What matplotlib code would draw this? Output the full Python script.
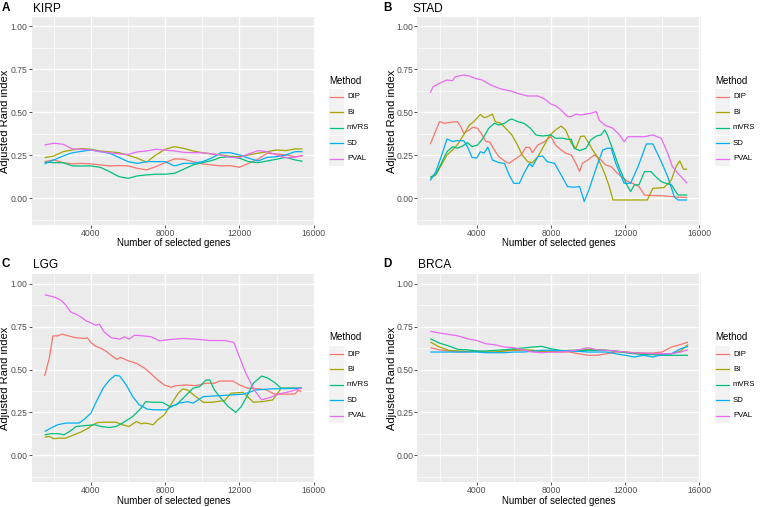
import matplotlib
matplotlib.use("Agg")
import matplotlib.pyplot as plt
from matplotlib.ticker import FixedLocator, FormatStrFormatter
from matplotlib.patches import Rectangle
from matplotlib.lines import Line2D

plt.rcParams['font.family'] = ['Liberation Sans', 'DejaVu Sans']

# ---------------- data ----------------
methods = ["DIP", "BI", "mVRS", "SD", "PVAL"]
colors = ["#F8766D", "#A3A500", "#00BF7D", "#00B0F6", "#E76BF3"]
x_ticks = [4000, 8000, 12000, 16000]
y_ticks = [0.00, 0.25, 0.50, 0.75, 1.00]

# KIRP and BRCA share a common gene-count grid
grid_x = [1500, 2000, 2500, 3000, 3500, 4000, 4500, 5000, 5500, 6000, 6500, 7000,
          7500, 8000, 8500, 9000, 9500, 10000, 10500, 11000, 11500, 12000, 12500,
          13000, 13500, 14000, 14500, 15000, 15400]

kirp_dip = [0.213, 0.223, 0.207, 0.200, 0.203, 0.200, 0.194, 0.188, 0.190, 0.188, 0.174, 0.165,
            0.184, 0.207, 0.229, 0.227, 0.213, 0.200, 0.194, 0.188, 0.190, 0.180, 0.203,
            0.227, 0.262, 0.258, 0.252, 0.242, 0.246]
kirp_bi = [0.236, 0.246, 0.271, 0.281, 0.289, 0.285, 0.275, 0.270, 0.265, 0.250, 0.233, 0.210,
           0.252, 0.285, 0.300, 0.290, 0.275, 0.265, 0.258, 0.252, 0.244, 0.242, 0.252,
           0.262, 0.271, 0.281, 0.277, 0.287, 0.287]
kirp_mvrs = [0.210, 0.207, 0.207, 0.188, 0.188, 0.188, 0.180, 0.155, 0.126, 0.116, 0.130, 0.136,
             0.140, 0.140, 0.145, 0.169, 0.194, 0.207, 0.219, 0.238, 0.242, 0.233, 0.213,
             0.207, 0.217, 0.227, 0.238, 0.223, 0.215]
kirp_sd = [0.200, 0.223, 0.246, 0.265, 0.273, 0.281, 0.271, 0.262, 0.238, 0.213, 0.203, 0.213,
           0.213, 0.213, 0.188, 0.203, 0.203, 0.213, 0.233, 0.265, 0.265, 0.252, 0.233,
           0.217, 0.238, 0.242, 0.252, 0.271, 0.271]
kirp_pval = [0.310, 0.320, 0.314, 0.287, 0.285, 0.281, 0.271, 0.265, 0.258, 0.255, 0.270, 0.275,
             0.285, 0.280, 0.275, 0.267, 0.265, 0.265, 0.258, 0.252, 0.238, 0.236, 0.258,
             0.277, 0.271, 0.252, 0.236, 0.238, 0.250]

brca_dip = [0.627, 0.615, 0.608, 0.602, 0.604, 0.606, 0.602, 0.602, 0.608, 0.612, 0.612, 0.612,
            0.606, 0.602, 0.602, 0.602, 0.592, 0.583, 0.583, 0.592, 0.602, 0.602, 0.598,
            0.596, 0.596, 0.602, 0.631, 0.646, 0.660]
brca_bi = [0.660, 0.631, 0.612, 0.608, 0.606, 0.606, 0.602, 0.602, 0.608, 0.615, 0.615, 0.612,
           0.606, 0.606, 0.608, 0.612, 0.612, 0.617, 0.615, 0.612, 0.606, 0.602, 0.596,
           0.592, 0.592, 0.588, 0.592, 0.608, 0.646]
brca_mvrs = [0.679, 0.654, 0.637, 0.617, 0.615, 0.608, 0.608, 0.612, 0.615, 0.621, 0.625, 0.631,
             0.635, 0.621, 0.612, 0.608, 0.612, 0.612, 0.612, 0.612, 0.608, 0.598, 0.592,
             0.588, 0.587, 0.583, 0.583, 0.583, 0.583]
brca_sd = [0.602, 0.602, 0.602, 0.602, 0.602, 0.602, 0.598, 0.598, 0.598, 0.602, 0.602, 0.606,
           0.612, 0.612, 0.608, 0.608, 0.606, 0.602, 0.602, 0.602, 0.592, 0.583, 0.573,
           0.583, 0.573, 0.587, 0.592, 0.621, 0.635]
brca_pval = [0.723, 0.713, 0.704, 0.696, 0.679, 0.669, 0.650, 0.644, 0.631, 0.627, 0.615, 0.602,
             0.598, 0.602, 0.602, 0.608, 0.615, 0.627, 0.615, 0.612, 0.608, 0.602, 0.596,
             0.596, 0.592, 0.592, 0.592, 0.602, 0.615]

# STAD (read as vertices of each curve)
stad_dip_x = [1500, 1700, 2000, 2250, 2600, 2950, 3150, 3300, 3600, 3800, 4050, 4300, 4500, 4700,
              4950, 5200, 5550, 5750, 6000, 6400, 6650, 6850, 7000, 7300, 7650, 8000, 8250,
              8550, 8800, 9100, 9350, 9550, 9700, 10000, 10350, 10700, 10950, 11250, 11500,
              11800, 12150, 12400, 12750, 13050, 13400, 14100, 14850, 15350]
stad_dip_y = [0.314, 0.368, 0.446, 0.436, 0.442, 0.446, 0.417, 0.378, 0.397, 0.413, 0.407, 0.368,
              0.329, 0.329, 0.281, 0.242, 0.213, 0.203, 0.223, 0.252, 0.296, 0.296, 0.266,
              0.310, 0.329, 0.359, 0.310, 0.281, 0.262, 0.252, 0.203, 0.155, 0.203, 0.223,
              0.252, 0.223, 0.194, 0.184, 0.155, 0.126, 0.097, 0.087, 0.068, 0.019, 0.016,
              0.014, 0.006, 0.004]
stad_bi_x = [1500, 1800, 2050, 2400, 2700, 2950, 3300, 3600, 3850, 4200, 4400, 4600, 4850, 5000,
             5300, 5650, 5900, 6200, 6450, 6750, 7000, 7300, 7650, 7900, 8250, 8550, 8800,
             9100, 9350, 9600, 9800, 10000, 10250, 10500, 10900, 11150, 11350, 13200, 13500,
             14100, 14500, 14750, 14950, 15150, 15350]
stad_bi_y = [0.116, 0.136, 0.184, 0.252, 0.281, 0.310, 0.368, 0.426, 0.446, 0.488, 0.469, 0.475,
             0.490, 0.446, 0.436, 0.397, 0.368, 0.310, 0.252, 0.213, 0.207, 0.242, 0.310,
             0.362, 0.397, 0.420, 0.397, 0.320, 0.291, 0.359, 0.362, 0.329, 0.281, 0.242,
             0.145, 0.068, -0.010, -0.010, 0.058, 0.062, 0.107, 0.184, 0.217, 0.169, 0.169]
stad_mvrs_x = [1500, 1800, 2050, 2400, 2700, 2950, 3250, 3500, 3750, 4050, 4300, 4500, 4650, 4950,
               5200, 5500, 5750, 5900, 6200, 6550, 6900, 7200, 7550, 8000, 8250, 8650, 8900,
               9100, 9250, 9550, 9900, 10150, 10450, 10700, 10900, 11050, 11350, 11700, 12050,
               12300, 12500, 12750, 13050, 13400, 13650, 13950, 14200, 14500, 14850, 15350]
stad_mvrs_y = [0.122, 0.141, 0.194, 0.271, 0.300, 0.291, 0.304, 0.324, 0.300, 0.310, 0.343, 0.378,
               0.407, 0.436, 0.426, 0.436, 0.455, 0.461, 0.446, 0.436, 0.407, 0.368, 0.362,
               0.368, 0.349, 0.349, 0.343, 0.343, 0.291, 0.277, 0.291, 0.339, 0.362, 0.368,
               0.397, 0.368, 0.281, 0.174, 0.087, 0.039, 0.078, 0.078, 0.155, 0.155, 0.126,
               0.097, 0.087, 0.078, 0.019, 0.019]
stad_sd_x = [1500, 1800, 2150, 2400, 2700, 2950, 3300, 3500, 3750, 4000, 4200, 4400, 4600, 4850,
             5200, 5500, 5750, 6000, 6300, 6550, 6850, 7000, 7300, 7550, 7800, 8200, 8550,
             8900, 9250, 9550, 9800, 10050, 10500, 10800, 11050, 11250, 11500, 11950, 12300,
             12700, 13150, 13500, 13950, 14300, 14650, 14850, 15350]
stad_sd_y = [0.103, 0.155, 0.262, 0.345, 0.330, 0.335, 0.335, 0.300, 0.238, 0.233, 0.271, 0.262,
             0.297, 0.223, 0.207, 0.203, 0.136, 0.087, 0.087, 0.145, 0.203, 0.184, 0.242,
             0.246, 0.213, 0.203, 0.136, 0.068, 0.064, 0.068, -0.019, 0.048, 0.194, 0.281,
             0.291, 0.291, 0.203, 0.087, 0.087, 0.184, 0.316, 0.316, 0.213, 0.126, 0.010,
             -0.010, -0.010]
stad_pval_x = [1500, 1650, 2000, 2400, 2700, 2850, 3300, 3600, 3950, 4300, 4750, 5300, 5850, 6200,
               6750, 7300, 7650, 8000, 8250, 8550, 8900, 9100, 9350, 9600, 10150, 10450, 10600,
               10900, 11350, 11700, 11950, 12150, 13050, 13500, 13950, 14300, 14550, 14850,
               15350]
stad_pval_y = [0.614, 0.649, 0.669, 0.688, 0.684, 0.707, 0.717, 0.711, 0.696, 0.688, 0.659, 0.636,
               0.624, 0.610, 0.595, 0.595, 0.578, 0.548, 0.539, 0.514, 0.475, 0.475, 0.490,
               0.484, 0.494, 0.504, 0.455, 0.426, 0.407, 0.368, 0.329, 0.358, 0.358, 0.368,
               0.349, 0.262, 0.184, 0.145, 0.087]

# LGG (read as vertices of each curve)
lgg_dip_x = [1500, 1750, 1950, 2200, 2450, 2850, 3200, 3650, 3800, 4000, 4250, 4550, 4800, 5150,
             5400, 5600, 6000, 6450, 6900, 7250, 7600, 7950, 8300, 8600, 9150, 9650, 10200,
             10650, 10950, 11650, 12000, 12450, 13100, 13450, 13900, 14350, 15000, 15150, 15350]
lgg_dip_y = [0.462, 0.565, 0.696, 0.696, 0.706, 0.694, 0.685, 0.681, 0.685, 0.656, 0.636, 0.623,
             0.607, 0.578, 0.559, 0.571, 0.551, 0.536, 0.507, 0.474, 0.439, 0.410, 0.397,
             0.406, 0.410, 0.406, 0.420, 0.420, 0.433, 0.433, 0.410, 0.391, 0.387, 0.381,
             0.356, 0.356, 0.358, 0.377, 0.373]
lgg_bi_x = [1500, 1750, 2000, 2300, 2650, 3000, 3450, 3800, 4100, 4350, 4800, 5350, 5700, 6050,
            6450, 6700, 6950, 7350, 7600, 7950, 8300, 8700, 8950, 9200, 9650, 10050, 10500,
            11200, 11550, 12200, 12750, 13250, 13800, 14250, 15350]
lgg_bi_y = [0.106, 0.110, 0.097, 0.100, 0.100, 0.116, 0.135, 0.155, 0.178, 0.191, 0.193, 0.193,
            0.178, 0.168, 0.197, 0.184, 0.188, 0.178, 0.207, 0.236, 0.294, 0.362, 0.387,
            0.381, 0.342, 0.309, 0.309, 0.319, 0.362, 0.367, 0.309, 0.313, 0.323, 0.391, 0.391]
lgg_mvrs_x = [1500, 1850, 2200, 2550, 2850, 3200, 3750, 4200, 4550, 5000, 5350, 5700, 6250, 6700,
              6950, 7350, 7850, 8250, 8600, 9050, 9500, 9850, 10200, 10400, 10650, 11000,
              11400, 11800, 12100, 12350, 12750, 13200, 13550, 13900, 14250, 15350]
lgg_mvrs_y = [0.120, 0.126, 0.126, 0.120, 0.139, 0.168, 0.174, 0.178, 0.168, 0.162, 0.168, 0.188,
              0.226, 0.275, 0.313, 0.309, 0.309, 0.284, 0.294, 0.342, 0.391, 0.400, 0.439,
              0.439, 0.381, 0.333, 0.284, 0.250, 0.284, 0.333, 0.420, 0.462, 0.449, 0.424,
              0.391, 0.391]
lgg_sd_x = [1500, 1850, 2200, 2650, 3350, 3650, 4000, 4250, 4650, 5000, 5300, 5550, 5900, 6250,
            6600, 7050, 7400, 8050, 8400, 8750, 9200, 9500, 10050, 10950, 12200, 12900, 13650,
            15350]
lgg_sd_y = [0.139, 0.159, 0.178, 0.188, 0.188, 0.211, 0.246, 0.304, 0.391, 0.439, 0.466, 0.462,
            0.410, 0.342, 0.294, 0.269, 0.265, 0.265, 0.288, 0.304, 0.313, 0.304, 0.342, 0.348,
            0.356, 0.381, 0.387, 0.391]
lgg_pval_x = [1500, 1850, 2100, 2400, 2650, 2900, 3200, 3450, 3750, 4000, 4250, 4450, 4700, 5100,
              5550, 5800, 6050, 6350, 6800, 7250, 7700, 8250, 8950, 9650, 10400, 11200, 11700,
              12000, 12350, 12800, 13200, 13650, 14150, 14700, 15350]
lgg_pval_y = [0.936, 0.927, 0.919, 0.903, 0.874, 0.836, 0.822, 0.807, 0.783, 0.772, 0.758, 0.764,
              0.720, 0.685, 0.677, 0.691, 0.677, 0.700, 0.696, 0.691, 0.667, 0.675, 0.681,
              0.677, 0.669, 0.669, 0.658, 0.574, 0.478, 0.381, 0.323, 0.337, 0.358, 0.371, 0.391]

panel_letters = ["A", "B", "C", "D"]
panel_titles = ["KIRP", "STAD", "LGG", "BRCA"]

# ---------------- figure ----------------
W, H = 760, 507
fig = plt.figure(figsize=(7.6, 5.07), dpi=100)
fig.patch.set_facecolor("white")


def fx(x):
    return x / W


def fy(y):
    return 1 - y / H


panels = [
    dict(rect=(31.7, 16.9, 315.4, 224.9),
         series=[(grid_x, kirp_dip), (grid_x, kirp_bi), (grid_x, kirp_mvrs),
                 (grid_x, kirp_sd), (grid_x, kirp_pval)],
         letter_x=1.7, title_x=32.7, base=12.3, letter_base=11.2,
         ylab_x=5.5, xlab_y=243.0, key_left=328.5, leg_title_y=80.5, key_first=97.0),
    dict(rect=(417.4, 16.9, 701.0, 224.9),
         series=[(stad_dip_x, stad_dip_y), (stad_bi_x, stad_bi_y), (stad_mvrs_x, stad_mvrs_y),
                 (stad_sd_x, stad_sd_y), (stad_pval_x, stad_pval_y)],
         letter_x=383.0, title_x=412.7, base=11.8, letter_base=11.2,
         ylab_x=391.8, xlab_y=243.0, key_left=714.5, leg_title_y=80.5, key_first=97.0),
    dict(rect=(31.7, 274.3, 315.4, 481.9),
         series=[(lgg_dip_x, lgg_dip_y), (lgg_bi_x, lgg_bi_y), (lgg_mvrs_x, lgg_mvrs_y),
                 (lgg_sd_x, lgg_sd_y), (lgg_pval_x, lgg_pval_y)],
         letter_x=1.7, title_x=32.7, base=268.0, letter_base=266.8,
         ylab_x=5.5, xlab_y=501.0, key_left=328.5, leg_title_y=337.5, key_first=354.0),
    dict(rect=(417.4, 274.3, 701.0, 481.9),
         series=[(grid_x, brca_dip), (grid_x, brca_bi), (grid_x, brca_mvrs),
                 (grid_x, brca_sd), (grid_x, brca_pval)],
         letter_x=383.0, title_x=418.0, base=268.0, letter_base=266.8,
         ylab_x=391.8, xlab_y=501.0, key_left=714.5, leg_title_y=337.5, key_first=354.0),
]

key_step = 15.4
key_w = 15.5

for i, p in enumerate(panels):
    l, t, r, b = p["rect"]
    ax = fig.add_axes([fx(l), fy(b), (r - l) / W, (b - t) / H])
    ax.set_facecolor("#EBEBEB")
    for s in ax.spines.values():
        s.set_visible(False)
    for (xs, ys), c in zip(p["series"], colors):
        ax.plot(xs, ys, color=c, lw=0.9, solid_joinstyle="round", solid_capstyle="butt")
    ax.set_xlim(805, 16095)
    ax.set_ylim(-0.155, 1.055)
    ax.xaxis.set_major_locator(FixedLocator(x_ticks))
    ax.xaxis.set_minor_locator(FixedLocator([2000, 6000, 10000, 14000]))
    ax.yaxis.set_major_locator(FixedLocator(y_ticks))
    ax.yaxis.set_minor_locator(FixedLocator([-0.125, 0.125, 0.375, 0.625, 0.875]))
    ax.yaxis.set_major_formatter(FormatStrFormatter("%.2f"))
    ax.grid(which="major", color="white", lw=1.0)
    ax.grid(which="minor", color="white", lw=0.5)
    ax.set_axisbelow(True)
    ax.tick_params(which="major", length=1.9, width=0.6, color="#333333",
                   labelsize=6.2, labelcolor="#4D4D4D", pad=1.1)
    ax.tick_params(which="minor", length=0)

    ax.set_xlabel("Number of selected genes", fontsize=7, color="black")
    ax.xaxis.label.set_va("center")
    ax.xaxis.set_label_coords(fx((l + r) / 2), fy(p["xlab_y"]), transform=fig.transFigure)
    ax.set_ylabel("Adjusted Rand index", fontsize=8.0, color="black")
    ax.yaxis.label.set_va("center")
    ax.yaxis.set_label_coords(fx(p["ylab_x"]), fy((t + b) / 2), transform=fig.transFigure)

    fig.text(fx(p["letter_x"]), fy(p["letter_base"]), panel_letters[i], fontsize=8.4,
             fontweight="bold", va="baseline", ha="left")
    fig.text(fx(p["title_x"]), fy(p["base"]), panel_titles[i], fontsize=8.6,
             va="baseline", ha="left")

    # legend
    kl = p["key_left"]
    fig.text(fx(kl + 1.0), fy(p["leg_title_y"]), "Method", fontsize=7, va="center", ha="left")
    for j, (m, c) in enumerate(zip(methods, colors)):
        cy = p["key_first"] + j * key_step
        fig.add_artist(Rectangle((fx(kl), fy(cy + key_step / 2)), key_w / W, key_step / H,
                                 transform=fig.transFigure, facecolor="#F2F2F2",
                                 edgecolor="none"))
        fig.add_artist(Line2D([fx(kl + 1.5), fx(kl + 14.0)], [fy(cy), fy(cy)],
                              transform=fig.transFigure, color=c, lw=0.9))
        fig.text(fx(kl + 18.5), fy(cy), m, fontsize=5.6, va="center", ha="left")

fig.savefig("out.png", dpi=100)
